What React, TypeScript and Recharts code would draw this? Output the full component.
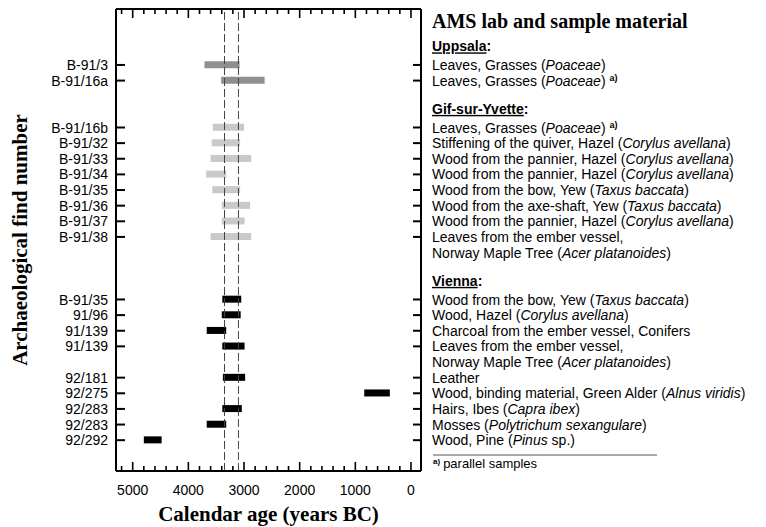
import React from "react";
import { BarChart, Bar, XAxis, YAxis, Cell, ReferenceLine, Label } from "recharts";

// rows top to bottom; a lab name starts a section, "" rows are spacers / continuation lines
const labs = ["Uppsala", "Gif-sur-Yvette", "Vienna"];

const findNumbers = [
  "", "B-91/3", "B-91/16a", "",
  "", "B-91/16b", "B-91/32", "B-91/33", "B-91/34", "B-91/35", "B-91/36", "B-91/37", "B-91/38", "", "",
  "", "B-91/35", "91/96", "91/139", "91/139", "", "92/181", "92/275", "92/283", "92/283", "92/292",
];

const materials = [
  "Uppsala",
  "Leaves, Grasses (Poaceae)",
  "Leaves, Grasses (Poaceae)",
  "",
  "Gif-sur-Yvette",
  "Leaves, Grasses (Poaceae)",
  "Stiffening of the quiver, Hazel (Corylus avellana)",
  "Wood from the pannier, Hazel (Corylus avellana)",
  "Wood from the pannier, Hazel (Corylus avellana)",
  "Wood from the bow, Yew (Taxus baccata)",
  "Wood from the axe-shaft, Yew (Taxus baccata)",
  "Wood from the pannier, Hazel (Corylus avellana)",
  "Leaves from the ember vessel,",
  "Norway Maple Tree (Acer platanoides)",
  "",
  "Vienna",
  "Wood from the bow, Yew (Taxus baccata)",
  "Wood, Hazel (Corylus avellana)",
  "Charcoal from the ember vessel, Conifers",
  "Leaves from the ember vessel,",
  "Norway Maple Tree (Acer platanoides)",
  "Leather",
  "Wood, binding material, Green Alder (Alnus viridis)",
  "Hairs, Ibes (Capra ibex)",
  "Mosses (Polytrichum sexangulare)",
  "Wood, Pine (Pinus sp.)",
];

const parallelSamples = ["B-91/16a", "B-91/16b"];

// calendar age range, years BC
const ageOldest = [
  null, 3710, 3410, null,
  null, 3560, 3580, 3600, 3680, 3570, 3400, 3400, 3600, null, null,
  null, 3390, 3400, 3670, 3390, null, 3380, 840, 3390, 3670, 4800,
];
const ageYoungest = [
  null, 3080, 2630, null,
  null, 3000, 3070, 2870, 3320, 3070, 2890, 2990, 2870, null, null,
  null, 3050, 3060, 3320, 2990, null, 2980, 380, 3040, 3320, 4480,
];

const xTicks = [0, 200, 400, 600, 800, 1000, 1200, 1400, 1600, 1800, 2000, 2200, 2400, 2600, 2800,
  3000, 3200, 3400, 3600, 3800, 4000, 4200, 4400, 4600, 4800, 5000, 5200];
const xLabels = [0, 1000, 2000, 3000, 4000, 5000];
const icemanSpan = [3350, 3100];

const labColor: Record<string, string> = {
  Uppsala: "#8f8f8f",
  "Gif-sur-Yvette": "#c9c9c9",
  Vienna: "#000000",
};

let currentLab = labs[0];
const data = findNumbers.map((find, i) => {
  if (labs.includes(materials[i])) currentLab = materials[i];
  return {
    find,
    lab: currentLab,
    range: ageOldest[i] != null ? [ageYoungest[i], ageOldest[i]] : null,
  };
});

const SANS = "'Liberation Sans', Arial, sans-serif";
const SERIF = "'Liberation Serif', 'Times New Roman', serif";

function materialParts(text: string) {
  const segs: { t: string; it: boolean }[] = [];
  let rest = text;
  while (rest.length) {
    const open = rest.indexOf("(");
    if (open < 0) {
      segs.push({ t: rest, it: false });
      break;
    }
    const close = rest.indexOf(")", open);
    segs.push({ t: rest.slice(0, open + 1), it: false });
    let inner = rest.slice(open + 1, close);
    let tail = "";
    if (inner.endsWith(" sp.")) {
      tail = " sp.";
      inner = inner.slice(0, -4);
    }
    segs.push({ t: inner, it: true });
    rest = tail + rest.slice(close);
  }
  return segs;
}

const LeftTick = (props: any) => {
  const { x, y, payload } = props;
  const i = payload?.index ?? props.index;
  const label = findNumbers[i];
  if (!label) return null;
  return (
    <g>
      <line x1={x + 8} x2={x + 17} y1={y} y2={y} stroke="#000" strokeWidth={2} />
      <text x={x} y={y} dy="0.36em" textAnchor="end" fontSize={14} fontFamily={SANS} fill="#000">
        {label}
      </text>
    </g>
  );
};

const RightTick = (props: any) => {
  const { x, y, payload } = props;
  const i = payload?.index ?? props.index;
  const text = materials[i];
  const find = findNumbers[i];
  return (
    <g>
      {find && <line x1={x - 11} x2={x - 19} y1={y} y2={y} stroke="#000" strokeWidth={2} />}
      {labs.includes(text) ? (
        <text x={x} y={y - 3} dy="0.36em" fontSize={14} fontFamily={SANS} fontWeight="bold" fill="#000">
          <tspan textDecoration="underline">{text}</tspan>
          <tspan>:</tspan>
        </text>
      ) : (
        <text x={x} y={y} dy="0.36em" fontSize={14} fontFamily={SANS} fill="#000" style={{ whiteSpace: "pre" }}>
          {materialParts(text).map((s, k) => (
            <tspan key={k} fontStyle={s.it ? "italic" : "normal"}>
              {s.t}
            </tspan>
          ))}
          {parallelSamples.includes(find) && (
            <tspan fontSize={9} fontWeight="bold" dx={4} dy={-5}>
              a)
            </tspan>
          )}
        </text>
      )}
    </g>
  );
};

const BottomTick = (props: any) => {
  const { x, y, payload } = props;
  const major = xLabels.includes(payload.value);
  const base = y - 19;
  return (
    <g>
      <line x1={x} x2={x} y1={base} y2={base - (major ? 9 : 5)} stroke="#000" strokeWidth={1.6} />
      {major && (
        <text x={x} y={y} dy="0.36em" textAnchor="middle" fontSize={14} fontFamily={SANS} fill="#000">
          {payload.value}
        </text>
      )}
    </g>
  );
};

const TopTick = (props: any) => {
  const { x, y, payload } = props;
  const major = xLabels.includes(payload.value);
  return <line x1={x} x2={x} y1={y} y2={y + (major ? 9 : 5)} stroke="#000" strokeWidth={1.6} />;
};

export default function App() {
  return (
    <div style={{ position: "absolute", left: 0, top: 0, width: 766, height: 527, background: "#fff" }}>
      <BarChart
        width={766}
        height={527}
        data={data}
        layout="vertical"
        margin={{ top: 0, right: 0, bottom: 0, left: 0 }}
      >
        <XAxis
          type="number"
          domain={[-180, 5300]}
          allowDataOverflow
          reversed
          ticks={xTicks}
          interval={0}
          tickSize={0}
          tickMargin={19}
          tick={<BottomTick />}
          tickLine={false}
          height={56}
          axisLine={{ stroke: "#000", strokeWidth: 2 }}
        >
          <Label
            value="Calendar age (years BC)"
            position="insideBottom"
            offset={6}
            fontFamily={SERIF}
            fontWeight="bold"
            fontSize={21}
            fill="#000"
          />
        </XAxis>
        <XAxis
          xAxisId="top"
          orientation="top"
          type="number"
          domain={[-180, 5300]}
          allowDataOverflow
          reversed
          ticks={xTicks}
          interval={0}
          tickSize={0}
          tickMargin={0}
          tick={<TopTick />}
          tickLine={false}
          height={9}
          axisLine={{ stroke: "#000", strokeWidth: 2 }}
        />
        <YAxis
          type="category"
          dataKey="find"
          width={116}
          interval={0}
          tickSize={0}
          tickMargin={8}
          tickLine={false}
          tick={<LeftTick />}
          padding={{ top: 32.5, bottom: 23 }}
          axisLine={{ stroke: "#000", strokeWidth: 2 }}
        >
          <Label
            value="Archaeological find number"
            angle={-90}
            position="insideLeft"
            offset={20}
            style={{ textAnchor: "middle" }}
            fontFamily={SERIF}
            fontWeight="bold"
            fontSize={21}
            fill="#000"
          />
        </YAxis>
        <YAxis
          yAxisId="right"
          orientation="right"
          type="category"
          dataKey="find"
          width={345}
          interval={0}
          tickSize={0}
          tickMargin={11}
          tickLine={false}
          tick={<RightTick />}
          padding={{ top: 32.5, bottom: 23 }}
          axisLine={{ stroke: "#000", strokeWidth: 2 }}
        />
        {icemanSpan.map((v) => (
          <ReferenceLine key={v} x={v} stroke="#444" strokeWidth={1} strokeDasharray="8 3" />
        ))}
        <Bar dataKey="range" barSize={7} isAnimationActive={false}>
          {data.map((d, i) => (
            <Cell key={i} fill={labColor[d.lab]} />
          ))}
        </Bar>
      </BarChart>
      <svg width={766} height={527} style={{ position: "absolute", left: 0, top: 0, pointerEvents: "none" }}>
        <text x={432} y={28} fontFamily={SERIF} fontWeight="bold" fontSize={20} fill="#000">
          AMS lab and sample material
        </text>
        <line x1={433} x2={657} y1={455} y2={455} stroke="#555" strokeWidth={1} />
        <text x={433} y={468} fontFamily={SANS} fontSize={13} fill="#000">
          <tspan fontSize={8} fontWeight="bold" dy={-4}>a)</tspan>
          <tspan dx={3} dy={4}>parallel samples</tspan>
        </text>
      </svg>
    </div>
  );
}
